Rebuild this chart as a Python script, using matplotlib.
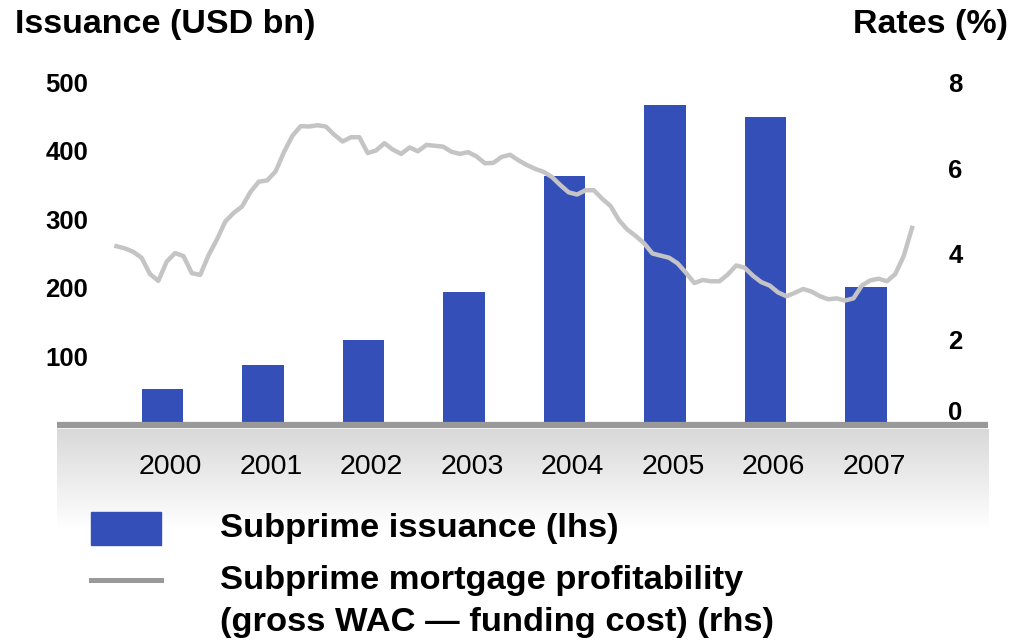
import numpy as np
import matplotlib
matplotlib.use("Agg")
import matplotlib.pyplot as plt
import matplotlib.transforms as mtransforms
from matplotlib.colors import LinearSegmentedColormap
from matplotlib.patches import Rectangle
from matplotlib.lines import Line2D

plt.rcParams['font.family'] = ['Liberation Sans', 'DejaVu Sans']

# data
years = np.array([2000, 2001, 2002, 2003, 2004, 2005, 2006, 2007])
issuance = [52, 87, 123, 194, 363, 467, 449, 201]  # USD bn
# monthly spread, Jan 2000 - Dec 2007 (%)
rates = [
    4.17, 4.12, 4.04, 3.90, 3.52, 3.36, 3.81, 4.01, 3.94, 3.54, 3.50, 3.96,
    4.33, 4.75, 4.95, 5.10, 5.44, 5.68, 5.71, 5.92, 6.37, 6.75, 6.98, 6.97,
    7.00, 6.97, 6.78, 6.62, 6.72, 6.72, 6.35, 6.41, 6.58, 6.43, 6.33, 6.48,
    6.39, 6.54, 6.52, 6.50, 6.38, 6.33, 6.37, 6.27, 6.11, 6.12, 6.26, 6.31,
    6.18, 6.07, 5.98, 5.91, 5.79, 5.60, 5.43, 5.38, 5.48, 5.48, 5.28, 5.11,
    4.78, 4.56, 4.41, 4.24, 4.00, 3.95, 3.90, 3.77, 3.55, 3.31, 3.38, 3.35,
    3.35, 3.51, 3.72, 3.67, 3.48, 3.33, 3.25, 3.09, 3.00, 3.08, 3.17, 3.11,
    3.00, 2.93, 2.95, 2.90, 2.95, 3.25, 3.37, 3.41, 3.35, 3.52, 3.94, 4.60,
]
left_ticks = [100, 200, 300, 400, 500]
right_ticks = [0, 2, 4, 6, 8]

bar_color = '#354fb9'
line_color = '#c4c4c4'

W, H = 1036, 642
fig = plt.figure(figsize=(W / 100, H / 100), dpi=100)

# grey gradient band under the axis
bg = fig.add_axes([57 / W, 1 - 530 / H, 931 / W, 101 / H])
grad = np.linspace(0, 1, 100).reshape(-1, 1)
cmap = LinearSegmentedColormap.from_list('g', ['#d9d9d9', '#ffffff'])
bg.imshow(grad, aspect='auto', cmap=cmap, extent=[0, 1, 0, 1], origin='upper')
bg.axis('off')

ax = fig.add_axes([57 / W, 1 - 424.5 / H, 931 / W, 342 / H])
ax.bar(years + 0.5, issuance, width=0.41, color=bar_color, zorder=2)
ax.set_xlim(1999.45, 2008.714)
ax.set_ylim(0, 500)
ax.set_xticks(years + 0.5)
ax.set_xticklabels([str(y) for y in years], fontsize=20.5)
ax.set_yticks(left_ticks)
ax.set_yticklabels([str(v) for v in left_ticks], fontsize=18.5, fontweight='bold')
ax.tick_params(axis='y', length=0, pad=-22.5)
ax.tick_params(axis='x', length=0, pad=21)
shift = mtransforms.ScaledTranslation(8 / 100, 0, fig.dpi_scale_trans)
for lbl in ax.get_xticklabels():
    lbl.set_transform(lbl.get_transform() + shift)
for s in ['top', 'left', 'right']:
    ax.spines[s].set_visible(False)
ax.spines['bottom'].set_color('#999999')
ax.spines['bottom'].set_linewidth(4.5)
ax.spines['bottom'].set_capstyle('butt')
ax.patch.set_visible(False)

ax2 = ax.twinx()
months_x = 2000 + np.arange(len(rates)) / 12 + 1 / 24
ax2.plot(months_x, rates, color=line_color, lw=3.2, solid_joinstyle='round')
ax2.set_ylim(0, 8)
ax2.set_yticks(right_ticks)
ax2.set_yticklabels([str(v) for v in right_ticks], fontsize=18.5, fontweight='bold')
ax2.tick_params(axis='y', length=0, pad=-28.5)
for lbl in ax2.get_yticklabels():
    lbl.set_horizontalalignment('left')
    if lbl.get_text() == '0':
        lbl.set_verticalalignment('bottom')
for s in ax2.spines.values():
    s.set_visible(False)

# titles
fig.text(15 / W, 1 - 25 / H, 'Issuance (USD bn)', fontsize=24.5, fontweight='bold', va='center')
fig.text(1008 / W, 1 - 25 / H, 'Rates (%)', fontsize=24.5, fontweight='bold', va='center', ha='right')

# legend
fig.add_artist(Rectangle((91 / W, 1 - 545 / H), 70 / W, 33 / H, transform=fig.transFigure,
                         color=bar_color))
fig.add_artist(Line2D([91 / W, 161 / W], [1 - 580 / H, 1 - 580 / H], transform=fig.transFigure,
                      color='#999999', lw=3.6))
fig.text(220 / W, 1 - 528 / H, 'Subprime issuance (lhs)', fontsize=24.8, fontweight='bold', va='center')
fig.text(220 / W, 1 - 580 / H, 'Subprime mortgage profitability', fontsize=24.8, fontweight='bold', va='center')
fig.text(220 / W, 1 - 623 / H, '(gross WAC \u2014 funding cost) (rhs)', fontsize=24.8, fontweight='bold', va='center')

fig.savefig('out.png', dpi=100)
